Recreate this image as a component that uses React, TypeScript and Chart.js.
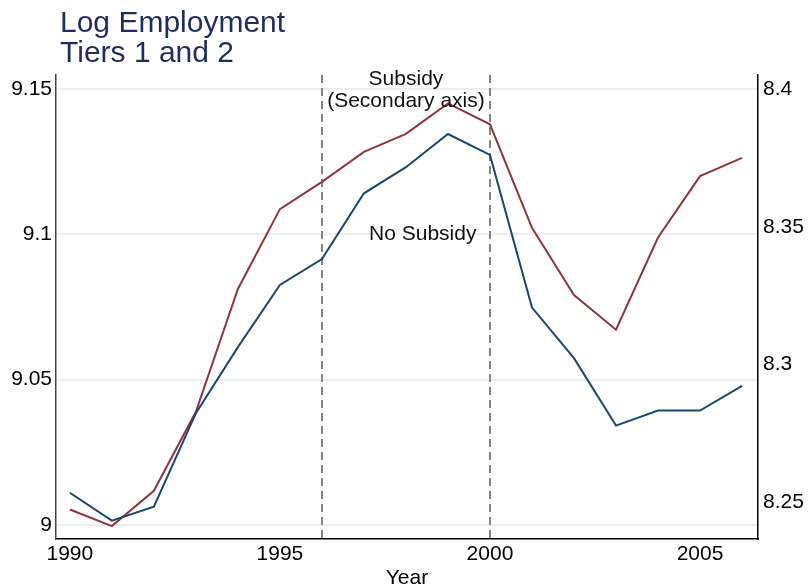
import React, { useEffect, useRef } from "react";
import { Chart, registerables } from "chart.js";

Chart.register(...registerables);

// Annual series, 1990–2006
const years = [1990, 1991, 1992, 1993, 1994, 1995, 1996, 1997, 1998, 1999, 2000, 2001, 2002, 2003, 2004, 2005, 2006];
const noSubsidy = [9.0111, 9.0015, 9.0063, 9.0385, 9.0612, 9.0826, 9.0915, 9.1141, 9.1231, 9.1345, 9.1273, 9.0748, 9.0574, 9.0342, 9.0394, 9.0394, 9.0479];
const subsidy = [8.2473, 8.2413, 8.2541, 8.2828, 8.3274, 8.3564, 8.3663, 8.3772, 8.3837, 8.3948, 8.3872, 8.3496, 8.3252, 8.3126, 8.3461, 8.3684, 8.3750];

const xTicks = [1990, 1995, 2000, 2005];
const leftTicks = [9, 9.05, 9.1, 9.15];
const rightTicks = [8.25, 8.3, 8.35, 8.4];
const markerYears = [1996, 2000];

const titleLines = ["Log Employment", "Tiers 1 and 2"];
const xTitle = "Year";
const FONT = "'Liberation Sans', Arial, Helvetica, sans-serif";

const overlay = {
  id: "overlay",
  beforeDatasetsDraw(chart: any) {
    const { ctx, chartArea, scales } = chart;
    ctx.save();
    ctx.strokeStyle = "#858585";
    ctx.lineWidth = 2;
    ctx.setLineDash([8, 5]);
    for (const yr of markerYears) {
      const x = Math.round(scales.x.getPixelForValue(yr));
      ctx.beginPath();
      ctx.moveTo(x, chartArea.top);
      ctx.lineTo(x, chartArea.bottom);
      ctx.stroke();
    }
    ctx.restore();
  },
  afterDatasetsDraw(chart: any) {
    const { ctx, scales } = chart;
    ctx.save();
    ctx.fillStyle = "#111111";
    ctx.font = `21px ${FONT}`;
    ctx.textAlign = "center";
    ctx.textBaseline = "middle";
    const cx = scales.x.getPixelForValue(1998);
    const topY = scales.y.getPixelForValue(9.1535);
    ctx.fillText("Subsidy", cx, topY);
    ctx.fillText("(Secondary axis)", cx, topY + 22);
    ctx.fillText("No Subsidy", scales.x.getPixelForValue(1998.4), scales.y.getPixelForValue(9.1));
    ctx.restore();
  },
  afterDraw(chart: any) {
    const { ctx, chartArea } = chart;
    ctx.save();
    // axis title
    ctx.fillStyle = "#000000";
    ctx.font = `21px ${FONT}`;
    ctx.textAlign = "center";
    ctx.textBaseline = "middle";
    ctx.fillText(xTitle, (chartArea.left + chartArea.right) / 2, 578);
    // chart title
    ctx.fillStyle = "#1f2d5c";
    ctx.font = `30px ${FONT}`;
    ctx.textAlign = "left";
    ctx.textBaseline = "alphabetic";
    titleLines.forEach((t, i) => ctx.fillText(t, 60, 32 + i * 30));
    ctx.restore();
  },
};

export default function App() {
  const ref = useRef<HTMLCanvasElement | null>(null);

  useEffect(() => {
    if (!ref.current) return;
    const chart = new Chart(ref.current, {
      type: "line",
      data: {
        datasets: [
          {
            label: "No Subsidy",
            data: years.map((x, i) => ({ x, y: noSubsidy[i] })),
            borderColor: "#1a476f",
            borderWidth: 2,
            pointRadius: 0,
            tension: 0,
            yAxisID: "y",
          },
          {
            label: "Subsidy",
            data: years.map((x, i) => ({ x, y: subsidy[i] })),
            borderColor: "#90353b",
            borderWidth: 2,
            pointRadius: 0,
            tension: 0,
            yAxisID: "y2",
          },
        ],
      },
      options: {
        animation: false,
        responsive: false,
        layout: { padding: { top: 75, left: 0, right: 0, bottom: 0 } },
        plugins: {
          legend: { display: false },
          tooltip: { enabled: false },
          title: { display: false },
        },
        scales: {
          x: {
            type: "linear",
            min: 1989.67,
            max: 2006.38,
            afterBuildTicks: (s: any) => {
              s.ticks = xTicks.map((v) => ({ value: v }));
            },
            afterFit: (s: any) => {
              s.height = 47;
            },
            grid: { display: false, drawTicks: false },
            border: { display: true, color: "#000000", width: 1.5 },
            ticks: {
              color: "#000000",
              font: { family: FONT, size: 21 },
              padding: 3,
              maxRotation: 0,
              callback: (v: any) => String(v),
            },
          },
          y: {
            position: "left",
            min: 8.9952,
            max: 9.1548,
            afterBuildTicks: (s: any) => {
              s.ticks = leftTicks.map((v) => ({ value: v }));
            },
            afterFit: (s: any) => {
              s.width = 56;
            },
            grid: { color: "#e9eff2", lineWidth: 2, drawTicks: false },
            border: { display: true, color: "#444444", width: 1.5 },
            ticks: {
              color: "#000000",
              font: { family: FONT, size: 21 },
              padding: 4,
              callback: (v: any) => String(v),
            },
          },
          y2: {
            position: "right",
            min: 8.2366,
            max: 8.4051,
            afterBuildTicks: (s: any) => {
              s.ticks = rightTicks.map((v) => ({ value: v }));
            },
            afterFit: (s: any) => {
              s.width = 50;
            },
            grid: { display: false, drawTicks: false },
            border: { display: true, color: "#000000", width: 1.5 },
            ticks: {
              color: "#000000",
              font: { family: FONT, size: 21 },
              padding: 5,
              callback: (v: any) => String(v),
            },
          },
        },
      } as any,
      plugins: [overlay],
    });
    return () => chart.destroy();
  }, []);

  return (
    <div style={{ position: "fixed", left: 0, top: 0, width: 808, height: 586, background: "#ffffff" }}>
      <canvas ref={ref} width={808} height={586} style={{ width: 808, height: 586, display: "block" }} />
    </div>
  );
}
